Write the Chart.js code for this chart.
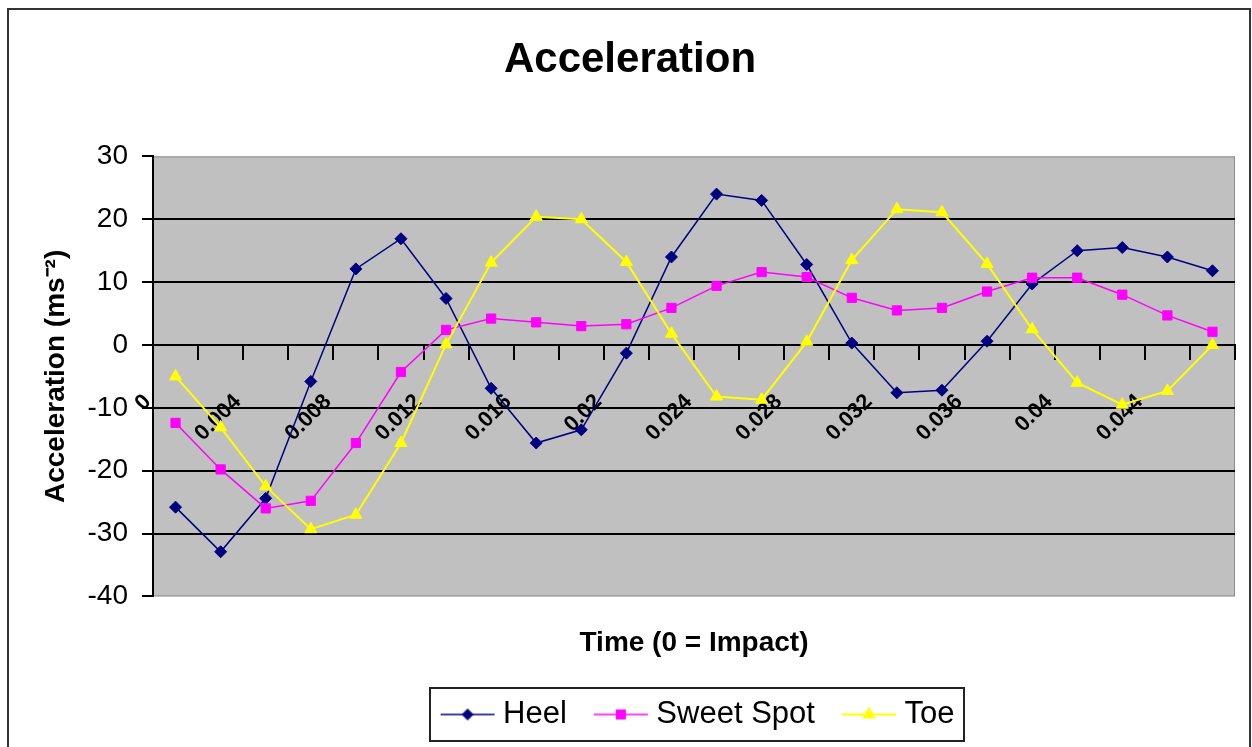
<!DOCTYPE html>
<html>
<head>
<meta charset="utf-8">
<script src="https://cdn.jsdelivr.net/npm/chart.js@4.4.1/dist/chart.umd.min.js"></script>
<style>
  html, body { margin: 0; padding: 0; background: #fff; }
  #wrap { width: 1252px; height: 747px; }
</style>
</head>
<body>
<div id="wrap"><canvas id="accelChart" width="1252" height="747"></canvas></div>
<script>
// data
const times = ['0', '0.002', '0.004', '0.006', '0.008', '0.01', '0.012', '0.014',
               '0.016', '0.018', '0.02', '0.022', '0.024', '0.026', '0.028', '0.03',
               '0.032', '0.034', '0.036', '0.038', '0.04', '0.042', '0.044', '0.046'];
const heel = [-25.8, -32.9, -24.4, -5.8, 12.1, 16.9, 7.4, -6.9, -15.6, -13.5, -1.3, 14.0,
              24.0, 23.0, 12.8, 0.3, -7.6, -7.2, 0.6, 9.7, 15.0, 15.5, 14.0, 11.8];
const sweetSpot = [-12.4, -19.8, -26.0, -24.8, -15.6, -4.3, 2.4, 4.2, 3.6, 3.0, 3.3, 5.9,
                   9.4, 11.6, 10.8, 7.5, 5.5, 5.9, 8.5, 10.7, 10.7, 8.0, 4.7, 2.1];
const toe = [-5.0, -13.1, -22.5, -29.3, -27.0, -15.6, 0.1, 13.1, 20.4, 20.0, 13.2, 1.8,
             -8.2, -8.7, 0.5, 13.5, 21.6, 21.1, 12.9, 2.5, -6.0, -9.5, -7.3, 0.0];
const yTicks = [-40, -30, -20, -10, 0, 10, 20, 30];

const FONT = "'Liberation Sans', Arial, sans-serif";

// small line+marker image for the legend, like Excel's
// (canvas is 70 wide, centred on the 54px legend box, so the line ends near the text)
function legendIcon(color, style, radius, lineWidth) {
    const c = document.createElement('canvas');
    c.width = 70; c.height = 20;
    const g = c.getContext('2d');
    g.strokeStyle = color;
    g.lineWidth = lineWidth;
    g.beginPath(); g.moveTo(15, 10); g.lineTo(69, 10); g.stroke();
    g.fillStyle = color;
    g.lineWidth = 1;
    Chart.helpers.drawPoint(g, {pointStyle: style, radius: radius, rotation: 0, borderWidth: 1}, 42, 10);
    return c;
}

const excelLook = {
    id: 'excelLook',
    beforeDraw(chart) {
        const {ctx, chartArea: a} = chart;
        ctx.save();
        ctx.fillStyle = '#c0c0c0';
        ctx.fillRect(a.left, a.top, a.right - a.left, a.bottom - a.top);
        ctx.strokeStyle = '#8a8a8a';
        ctx.lineWidth = 1;
        ctx.strokeRect(a.left + 0.5, a.top + 0.5, a.right - a.left - 1, a.bottom - a.top - 1);
        // outer chart frame
        ctx.strokeStyle = '#333';
        ctx.lineWidth = 2;
        ctx.beginPath();
        ctx.moveTo(8, 747); ctx.lineTo(8, 9); ctx.lineTo(1250, 9); ctx.lineTo(1250, 747);
        ctx.stroke();
        ctx.restore();
    },
    afterDraw(chart) {
        const hb = chart.legend.legendHitBoxes;
        if (!hb || !hb.length) return;
        const left = Math.min(...hb.map(b => b.left)) - 4;
        const right = Math.max(...hb.map(b => b.left + b.width)) + 9;
        const top = hb[0].top - 11;
        const bottom = hb[0].top + hb[0].height + 11;
        const ctx = chart.ctx;
        ctx.save();
        ctx.strokeStyle = '#222';
        ctx.lineWidth = 2;
        ctx.strokeRect(Math.round(left), Math.round(top), Math.round(right - left), Math.round(bottom - top));
        ctx.restore();
    }
};

const ctx = document.getElementById('accelChart').getContext('2d');
const icons = [
    legendIcon('#000080', 'rectRot', 5.5, 1.5),
    legendIcon('#ff00ff', 'rect', 6.5, 1.5),
    legendIcon('#ffff00', 'triangle', 7, 2)
];

new Chart(ctx, {
    type: 'line',
    data: {
        labels: times,
        datasets: [{
            label: 'Heel',
            data: heel,
            borderColor: '#000080',
            backgroundColor: '#000080',
            borderWidth: 1.5,
            pointStyle: 'rectRot',
            pointRadius: 6,
            pointBorderWidth: 1,
            order: 3
        }, {
            label: 'Sweet Spot',
            data: sweetSpot,
            borderColor: '#ff00ff',
            backgroundColor: '#ff00ff',
            borderWidth: 1.5,
            pointStyle: 'rect',
            pointRadius: 6.5,
            pointBorderWidth: 1,
            order: 2
        }, {
            label: 'Toe',
            data: toe,
            borderColor: '#ffff00',
            backgroundColor: '#ffff00',
            borderWidth: 2,
            pointStyle: 'triangle',
            pointRadius: 7,
            pointBorderWidth: 1,
            order: 1
        }]
    },
    options: {
        responsive: false,
        animation: false,
        events: [],
        layout: { padding: { left: 8, right: 0, top: 0, bottom: 7 } },
        scales: {
            x: {
                type: 'category',
                position: { y: 0 },
                offset: true,
                afterFit: scale => { scale.paddingLeft = 0; scale.paddingRight = 17; },
                border: { color: '#000', width: 2 },
                grid: {
                    offset: true,
                    drawOnChartArea: false,
                    drawTicks: true,
                    tickLength: 14,
                    tickColor: '#000',
                    lineWidth: 2
                },
                ticks: {
                    autoSkip: false,
                    minRotation: 45,
                    maxRotation: 45,
                    padding: 30,
                    labelOffset: -28,
                    color: '#000',
                    font: { family: FONT, size: 22, weight: 'bold' },
                    callback: (v, i) => (i % 2 === 0 ? times[i] : '')
                }
            },
            y: {
                min: -40,
                max: 30,
                afterBuildTicks: scale => { scale.ticks = yTicks.map(v => ({ value: v })); },
                afterFit: scale => { scale.width = 145; },
                border: { color: '#000', width: 2 },
                grid: {
                    color: c => (c.tick && (c.tick.value === 30 || c.tick.value === -40)) ? 'rgba(0,0,0,0)' : '#000',
                    tickColor: '#000',
                    lineWidth: 2,
                    tickLength: 11
                },
                ticks: {
                    padding: 14,
                    color: '#000',
                    font: { family: FONT, size: 28 }
                },
                title: {
                    display: true,
                    text: 'Acceleration (ms⁻²)',
                    color: '#000',
                    font: { family: FONT, size: 28, weight: 'bold' },
                    padding: { top: 31, bottom: 0 }
                }
            }
        },
        plugins: {
            title: {
                display: true,
                text: 'Acceleration',
                color: '#000',
                font: { family: FONT, size: 42, weight: 'bold' },
                padding: { top: 35, bottom: 71 }
            },
            subtitle: {
                display: true,
                position: 'bottom',
                fullSize: false,
                weight: 500,
                text: 'Time (0 = Impact)',
                color: '#000',
                font: { family: FONT, size: 28, weight: 'bold' },
                padding: { top: 30, bottom: 19 }
            },
            legend: {
                position: 'bottom',
                fullSize: false,
                labels: {
                    usePointStyle: true,
                    pointStyleWidth: 54,
                    padding: 20,
                    color: '#000',
                    font: { family: FONT, size: 31 },
                    generateLabels: chart => chart.data.datasets.map((ds, i) => ({
                        text: ds.label,
                        pointStyle: icons[i],
                        datasetIndex: i,
                        fontColor: '#000',
                        hidden: false,
                        lineWidth: 0,
                        strokeStyle: 'rgba(0,0,0,0)',
                        fillStyle: 'rgba(0,0,0,0)'
                    }))
                }
            },
            tooltip: { enabled: false }
        }
    },
    plugins: [excelLook]
});
</script>
</body>
</html>
